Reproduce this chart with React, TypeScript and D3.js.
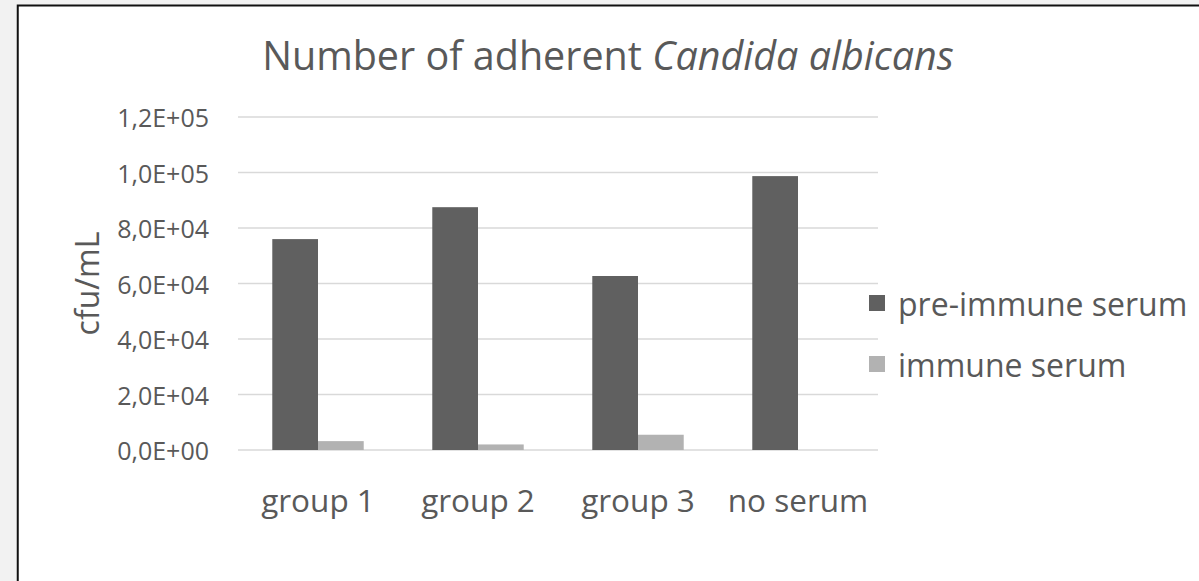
import React from 'react';
import * as d3 from 'd3';

const width = 1199;
const height = 581;

const categories = ['group 1', 'group 2', 'group 3', 'no serum'];
const seriesNames = ['pre-immune serum', 'immune serum'];
const preImmune = [76000, 87500, 62700, 98700];
const immune = [3200, 2000, 5500, 0];
const yTicks = [0, 20000, 40000, 60000, 80000, 100000, 120000];

const colors = ['#606060', '#b2b2b2'];
const textColor = '#595959';
const font = '"Open Sans", sans-serif';

const plot = { left: 238, right: 878, top: 117, bottom: 450 };

const fmtTick = (v: number) => {
  // Excel style "1,2E+05"
  if (v === 0) return '0,0E+00';
  const exp = Math.floor(Math.log10(v));
  const mant = (v / Math.pow(10, exp)).toFixed(1).replace('.', ',');
  return `${mant}E+${String(exp).padStart(2, '0')}`;
};

export default function App() {
  const x = d3.scaleBand<string>().domain(categories).range([plot.left, plot.right]);
  const xInner = d3
    .scaleBand<string>()
    .domain(seriesNames)
    .range([0, x.bandwidth()])
    .paddingInner(0)
    .paddingOuter(0.75);
  const y = d3.scaleLinear().domain([0, 120000]).range([plot.bottom, plot.top]);

  const series = [preImmune, immune];

  return (
    <svg
      width={width}
      height={height}
      style={{ position: 'absolute', left: 0, top: 0, background: '#f2f2f2' }}
      fontFamily={font}
    >
      <rect x={17.75} y={5.5} width={1400} height={800} fill="#ffffff" stroke="#111" strokeWidth={2} />

      <text x={608} y={70} textAnchor="middle" fontSize={39.5} fill={textColor}>
        Number of adherent <tspan fontStyle="italic">Candida albicans</tspan>
      </text>

      {/* gridlines + y labels */}
      {yTicks.map((t) => (
        <g key={t}>
          <line x1={plot.left} x2={plot.right} y1={y(t)} y2={y(t)} stroke="#d9d9d9" strokeWidth={1.5} />
          <text x={209} y={y(t)} textAnchor="end" dominantBaseline="central" fontSize={25} fill={textColor}>
            {fmtTick(t)}
          </text>
        </g>
      ))}

      <text
        transform={`translate(86, ${(plot.top + plot.bottom) / 2}) rotate(-90)`}
        textAnchor="middle"
        dominantBaseline="central"
        fontSize={32}
        fill={textColor}
      >
        cfu/mL
      </text>

      {/* bars */}
      {categories.map((c, i) => (
        <g key={c} transform={`translate(${x(c)},0)`}>
          {seriesNames.map((s, j) => {
            const v = series[j][i];
            if (!v) return null;
            return (
              <rect
                key={s}
                x={xInner(s)}
                y={y(v)}
                width={xInner.bandwidth()}
                height={y(0) - y(v)}
                fill={colors[j]}
              />
            );
          })}
          <text
            x={x.bandwidth() / 2}
            y={512}
            textAnchor="middle"
            fontSize={31.5}
            fill={textColor}
          >
            {c}
          </text>
        </g>
      ))}

      {/* legend */}
      {seriesNames.map((s, j) => {
        const cy = 303 + j * 61;
        return (
          <g key={s}>
            <rect x={869} y={cy - 8} width={16} height={16} fill={colors[j]} />
            <text x={898} y={cy} dominantBaseline="central" fontSize={32} fill={textColor}>
              {s}
            </text>
          </g>
        );
      })}
    </svg>
  );
}
